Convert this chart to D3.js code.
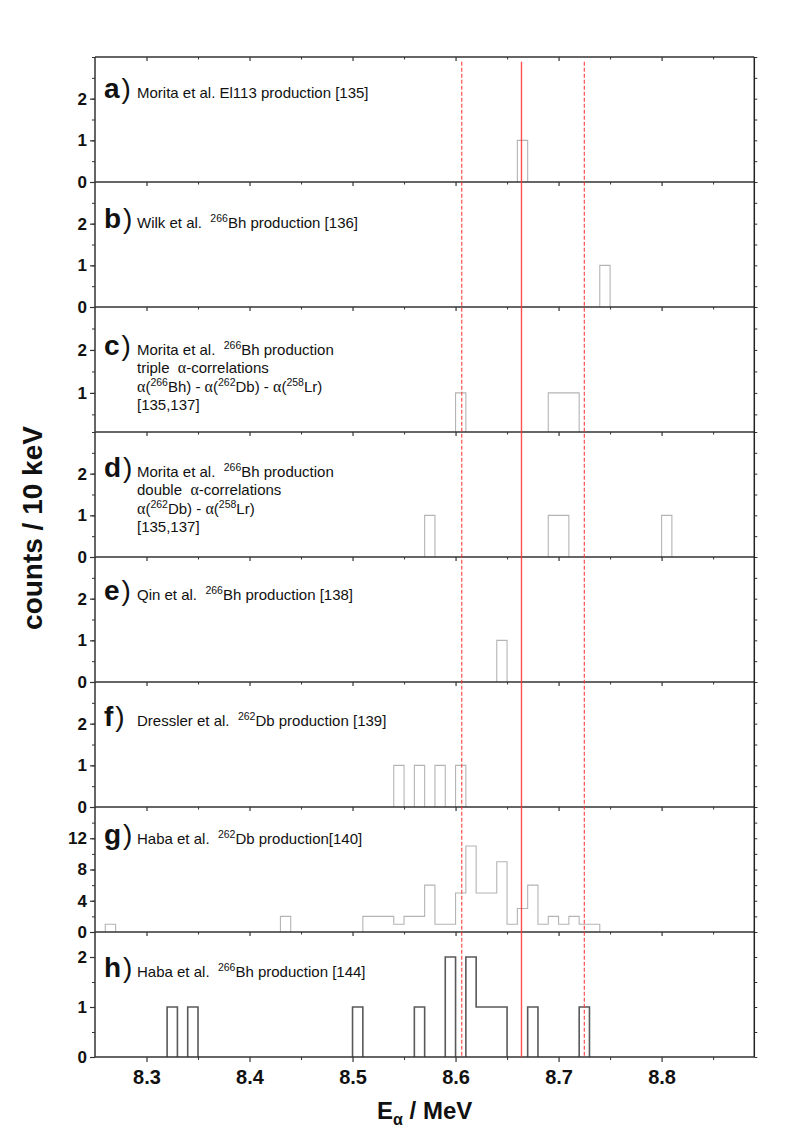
<!DOCTYPE html>
<html>
<head>
  <meta charset="utf-8">
  <title>Alpha energy spectra</title>
  <style>
    body { margin: 0; background: #fff; }
    text { font-family: "Liberation Sans", Arial, sans-serif; }
  </style>
</head>
<body>
<script src="https://d3js.org/d3.v7.min.js"></script>
<script>
// ---- data ----
var energyDomain = [8.25, 8.89];
var xMajorTicks = [8.3, 8.4, 8.5, 8.6, 8.7, 8.8];
var xMinorTicks = [8.35, 8.45, 8.55, 8.65, 8.75, 8.85];
var binWidth = 0.01;

// red reference lines: [energy, dashed?]
var refLines = [[8.606, true], [8.664, false], [8.725, true]];

// histogram bins per panel: [lower edge (MeV), counts]
var binsA = [[8.66, 1]];
var binsB = [[8.74, 1]];
var binsC = [[8.60, 1], [8.69, 1], [8.70, 1], [8.71, 1]];
var binsD = [[8.57, 1], [8.69, 1], [8.70, 1], [8.80, 1]];
var binsE = [[8.64, 1]];
var binsF = [[8.54, 1], [8.56, 1], [8.58, 1], [8.60, 1]];
var binsG = [[8.26, 1], [8.43, 2], [8.51, 2], [8.52, 2], [8.53, 2], [8.54, 1], [8.55, 2], [8.56, 2],
             [8.57, 6], [8.58, 1], [8.59, 1], [8.60, 5], [8.61, 11], [8.62, 5], [8.63, 5], [8.64, 9],
             [8.65, 1], [8.66, 3], [8.67, 6], [8.68, 1], [8.69, 2], [8.70, 1], [8.71, 2], [8.72, 1], [8.73, 1]];
var binsH = [[8.32, 1], [8.34, 1], [8.50, 1], [8.56, 1], [8.59, 2], [8.61, 2], [8.62, 1], [8.63, 1],
             [8.64, 1], [8.67, 1], [8.72, 1]];

var panelLetters = ["a", "b", "c", "d", "e", "f", "g", "h"];
var panelBins = [binsA, binsB, binsC, binsD, binsE, binsF, binsG, binsH];
var yDomains = [[0, 3], [0, 3], [0.09, 3], [0, 3], [0, 3], [0, 3], [0, 16], [0, 2.5]];
var yTickLabels = [[0, 1, 2], [0, 1, 2], [1, 2], [0, 1, 2], [0, 1, 2], [0, 1, 2], [0, 4, 8, 12], [0, 1, 2]];
var yMinorStep = [0.5, 0.5, 0.5, 0.5, 0.5, 0.5, 2, 0.5];

// panel captions: each line is a list of [text, kind]
var captions = [
  [[["Morita et al. El113 production [135]"]]],
  [[["Wilk et al.  "], ["266", "sup"], ["Bh production [136]"]]],
  [[["Morita et al.  "], ["266", "sup"], ["Bh production"]],
   [["triple  "], ["α", "greek"], ["-correlations"]],
   [["α", "greek"], ["("], ["266", "sup"], ["Bh) - "], ["α", "greek"], ["("], ["262", "sup"], ["Db) - "], ["α", "greek"], ["("], ["258", "sup"], ["Lr)"]],
   [["[135,137]"]]],
  [[["Morita et al.  "], ["266", "sup"], ["Bh production"]],
   [["double  "], ["α", "greek"], ["-correlations"]],
   [["α", "greek"], ["("], ["262", "sup"], ["Db) - "], ["α", "greek"], ["("], ["258", "sup"], ["Lr)"]],
   [["[135,137]"]]],
  [[["Qin et al.  "], ["266", "sup"], ["Bh production [138]"]]],
  [[["Dressler et al.  "], ["262", "sup"], ["Db production [139]"]]],
  [[["Haba et al.  "], ["262", "sup"], ["Db production[140]"]]],
  [[["Haba et al.  "], ["266", "sup"], ["Bh production [144]"]]]
];

// ---- layout ----
var W = 795, H = 1136;
var plotLeft = 95, plotRight = 754.3, plotTop = 57, panelH = 125;
var labelBaseline = [41, 46, 48, 45, 43, 44, 37, 45];

var svg = d3.select("body").append("svg")
  .attr("width", W).attr("height", H);

var x = d3.scaleLinear().domain(energyDomain).range([plotLeft, plotRight]);
var nPanels = panelLetters.length;
var plotBottom = plotTop + nPanels * panelH;

panelLetters.forEach(function(letter, i) {
  var pTop = plotTop + i * panelH, pBot = pTop + panelH;
  var y = d3.scaleLinear().domain(yDomains[i]).range([pBot, pTop]);
  var g = svg.append("g");
  var last = i === nPanels - 1;

  // minor y ticks
  var step = yMinorStep[i];
  var minors = d3.range(0, yDomains[i][1] + 1e-6, step)
    .filter(function(v) { return v >= yDomains[i][0] - 1e-6; });

  // histogram outline
  var y0 = y(yDomains[i][0]);
  var d = "", prevEnd = null;
  panelBins[i].forEach(function(b) {
    var e = b[0], n = b[1];
    if (prevEnd === null || Math.abs(e - prevEnd) > 1e-6) {
      if (prevEnd !== null) d += "L" + x(prevEnd) + "," + y0;
      d += "M" + x(e) + "," + y0;
    }
    d += "L" + x(e) + "," + y(n) + "L" + x(e + binWidth) + "," + y(n);
    prevEnd = e + binWidth;
  });
  d += "L" + x(prevEnd) + "," + y0;
  g.append("path").attr("d", d)
    .attr("fill", "none")
    .attr("stroke", last ? "#595959" : "#b4b4b4")
    .attr("stroke-width", last ? 1.6 : 1.1);

  // left axis
  g.append("g").attr("transform", "translate(" + plotLeft + ",0)")
    .call(d3.axisLeft(y).tickValues(minors).tickSize(3).tickFormat(""))
    .call(function(a) { a.select(".domain").remove(); a.selectAll("line").attr("stroke", "#333").attr("stroke-width", 1); });
  g.append("g").attr("transform", "translate(" + plotLeft + ",0)")
    .call(d3.axisLeft(y).tickValues(yTickLabels[i]).tickSize(5).tickPadding(3).tickFormat(d3.format("d")))
    .call(function(a) {
      a.select(".domain").remove();
      a.selectAll("line").attr("stroke", "#333").attr("stroke-width", 1.2);
      a.selectAll("text").attr("font-size", "17px").attr("font-weight", "bold").attr("fill", "#111")
        .attr("font-family", "Liberation Sans, Arial, sans-serif");
    });

  // right axis, inward ticks
  g.append("g").attr("transform", "translate(" + plotRight + ",0)")
    .call(d3.axisLeft(y).tickValues(minors).tickSize(-3).tickFormat(""))
    .call(function(a) { a.select(".domain").remove(); a.selectAll("line").attr("stroke", "#333"); });

  // top ticks, pointing into panel
  g.append("g").attr("transform", "translate(0," + pTop + ")")
    .call(d3.axisBottom(x).tickValues(xMajorTicks).tickSize(4).tickFormat(""))
    .call(function(a) { a.select(".domain").remove(); a.selectAll("line").attr("stroke", "#333").attr("stroke-width", 1.2); });
  g.append("g").attr("transform", "translate(0," + pTop + ")")
    .call(d3.axisBottom(x).tickValues(xMinorTicks).tickSize(2.5).tickFormat(""))
    .call(function(a) { a.select(".domain").remove(); a.selectAll("line").attr("stroke", "#333"); });

  // frame lines
  g.append("line").attr("x1", plotLeft).attr("x2", plotRight).attr("y1", pBot).attr("y2", pBot)
    .attr("stroke", "#333").attr("stroke-width", 1.5);
  if (i === 0) g.append("line").attr("x1", plotLeft).attr("x2", plotRight).attr("y1", pTop).attr("y2", pTop)
    .attr("stroke", "#333").attr("stroke-width", 1.5);

  // caption
  var base = pTop + labelBaseline[i];
  var lab = g.append("text").attr("x", 104).attr("y", base).attr("font-size", "28px").attr("fill", "#111");
  lab.append("tspan").attr("font-weight", "bold").text(letter);
  lab.append("tspan").attr("dx", 2).text(")");

  captions[i].forEach(function(line, li) {
    var t = g.append("text").attr("x", 137).attr("y", base + li * 18.3)
      .attr("font-size", "15px").attr("fill", "#111");
    var pendingDy = 0;
    line.forEach(function(part) {
      var s;
      if (part[1] === "sup") {
        s = t.append("tspan").attr("font-size", "10.5px").attr("dy", pendingDy - 6).text(part[0]);
        pendingDy = 6;
        return;
      } else if (part[1] === "greek") {
        s = t.append("tspan").attr("font-family", "Liberation Serif, serif").attr("font-size", "16px").text(part[0]);
      } else {
        s = t.append("tspan").text(part[0].replace(/ /g, "\u00a0"));
      }
      if (pendingDy) { s.attr("dy", pendingDy); pendingDy = 0; }
    });
  });
});

// left and right frame
svg.append("line").attr("x1", plotLeft).attr("x2", plotLeft).attr("y1", plotTop).attr("y2", plotBottom)
  .attr("stroke", "#333").attr("stroke-width", 1.5);
svg.append("line").attr("x1", plotRight).attr("x2", plotRight).attr("y1", plotTop).attr("y2", plotBottom)
  .attr("stroke", "#222").attr("stroke-width", 1.5);

// bottom axis of last panel
svg.append("g").attr("transform", "translate(0," + plotBottom + ")")
  .call(d3.axisBottom(x).tickValues(xMajorTicks).tickSize(5).tickPadding(8).tickFormat(d3.format(".1f")))
  .call(function(a) {
    a.select(".domain").remove();
    a.selectAll("line").attr("stroke", "#333").attr("stroke-width", 1.2);
    a.selectAll("text").attr("font-size", "20px").attr("font-weight", "bold").attr("fill", "#111")
      .attr("font-family", "Liberation Sans, Arial, sans-serif");
  });
svg.append("g").attr("transform", "translate(0," + plotBottom + ")")
  .call(d3.axisBottom(x).tickValues(xMinorTicks).tickSize(3).tickFormat(""))
  .call(function(a) { a.select(".domain").remove(); a.selectAll("line").attr("stroke", "#333"); });

// reference lines
svg.selectAll(".ref").data(refLines).enter().append("line")
  .attr("x1", function(r) { return x(r[0]); })
  .attr("x2", function(r) { return x(r[0]); })
  .attr("y1", 61.7).attr("y2", plotBottom)
  .attr("stroke", "#ff3030")
  .attr("stroke-opacity", 0.85)
  .attr("stroke-width", function(r) { return r[1] ? 1.2 : 1.4; })
  .attr("stroke-dasharray", function(r) { return r[1] ? "4,2" : null; });

// axis titles
var xt = svg.append("text").attr("x", (plotLeft + plotRight) / 2).attr("y", 1119)
  .attr("text-anchor", "middle").attr("font-size", "24px").attr("font-weight", "bold").attr("fill", "#111");
xt.append("tspan").text("E");
xt.append("tspan").attr("font-size", "16px").attr("dy", 6).text("α");
xt.append("tspan").attr("dy", -6).text("\u00a0/ MeV");

svg.append("text")
  .attr("transform", "translate(42," + 528 + ") rotate(-90)")
  .attr("text-anchor", "middle").attr("font-size", "28px").attr("font-weight", "bold").attr("fill", "#111")
  .text("counts / 10 keV");
</script>
</body>
</html>
